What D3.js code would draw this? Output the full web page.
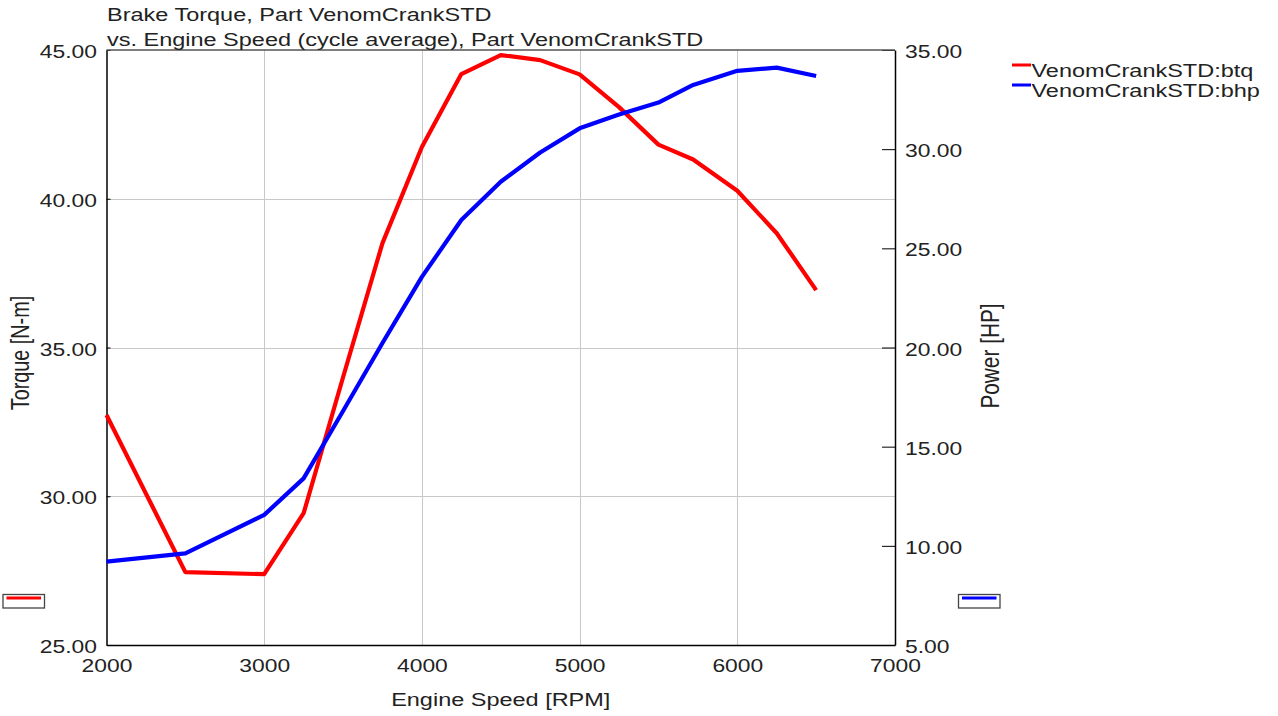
<!DOCTYPE html>
<html>
<head>
<meta charset="utf-8">
<script src="https://cdn.jsdelivr.net/npm/d3@7"></script>
<style>
  html, body { margin: 0; padding: 0; background: #fff; }
  svg { display: block; font-family: "Liberation Sans", Arial, sans-serif; }
</style>
</head>
<body>
<svg id="chart" width="1278" height="716"></svg>
<script>
// Engine speed sweep points [RPM]
const rpm = [2000, 2500, 3000, 3250, 3500, 3750, 4000, 4250, 4500, 4750, 5000, 5250, 5500, 5720, 6000, 6250, 6500];
// Brake torque [N-m]
const btq = [32.73, 27.45, 27.38, 29.43, 34.0, 38.51, 41.74, 44.19, 44.83, 44.66, 44.18, 43.08, 41.82, 41.32, 40.27, 38.84, 36.93];
// Brake power [HP]
const bhp = [9.20, 9.62, 11.56, 13.40, 16.8, 20.23, 23.56, 26.43, 28.36, 29.83, 31.05, 31.75, 32.35, 33.24, 33.95, 34.11, 33.69];

const xTicks = [2000, 3000, 4000, 5000, 6000, 7000];
const torqueTicks = [25, 30, 35, 40, 45];
const powerTicks = [5, 10, 15, 20, 25, 30, 35];

const titleLines = ["Brake Torque, Part VenomCrankSTD", "vs. Engine Speed (cycle average), Part VenomCrankSTD"];
const seriesNames = ["VenomCrankSTD:btq", "VenomCrankSTD:bhp"];
const seriesColors = ["#ff0000", "#0000ff"];

// Text in this chart is drawn horizontally widened
const SX = 1.27;

const svg = d3.select("#chart");
const L = 106.5, R = 895, T = 50, B = 645;

const x = d3.scaleLinear().domain([2000, 7000]).range([L, R]);
const yT = d3.scaleLinear().domain([25, 45]).range([B, T]);
const yP = d3.scaleLinear().domain([5, 35]).range([B, T]);

// Grid
const grid = svg.append("g").attr("stroke", "#c8c8c8").attr("stroke-width", 1);
grid.selectAll("line.v").data(xTicks.filter(d => d > 2000 && d < 7000)).join("line")
  .attr("x1", d => Math.round(x(d)) + 0.5).attr("x2", d => Math.round(x(d)) + 0.5)
  .attr("y1", T).attr("y2", B);
grid.selectAll("line.h").data(torqueTicks.filter(d => d > 25 && d < 45)).join("line")
  .attr("y1", d => Math.round(yT(d)) + 0.5).attr("y2", d => Math.round(yT(d)) + 0.5)
  .attr("x1", L).attr("x2", R);

// Stretch helper for axis labels produced by d3.axis
function widen(sel) {
  sel.selectAll(".tick text").each(function () {
    const t = d3.select(this);
    const tx = +t.attr("x") || 0;
    t.attr("x", tx / SX).attr("transform", `scale(${SX},1)`);
  });
}

// Bottom axis
const gx = svg.append("g").attr("transform", `translate(0,${B})`)
  .call(d3.axisBottom(x).tickValues(xTicks).tickFormat(d3.format("d")).tickSize(0).tickPadding(14));
gx.select(".domain").attr("stroke", "#000").attr("stroke-width", 1.5);
gx.selectAll(".tick text").attr("font-size", 18).attr("fill", "#222")
  .attr("font-family", "Liberation Sans, Arial, sans-serif");
widen(gx);

// Left axis (torque)
const gl = svg.append("g").attr("transform", `translate(${L},0)`)
  .call(d3.axisLeft(yT).tickValues(torqueTicks).tickFormat(d3.format(".2f")).tickSize(-4).tickPadding(9.5).tickSizeOuter(0));
gl.select(".domain").attr("stroke", "#000").attr("stroke-width", 1.5);
gl.selectAll(".tick line").attr("stroke", "#000");
gl.selectAll(".tick text").attr("font-size", 18).attr("fill", "#222").attr("dy", null)
  .attr("y", 7.5).attr("font-family", "Liberation Sans, Arial, sans-serif");
widen(gl);

// Right axis (power)
const gr = svg.append("g").attr("transform", `translate(${R},0)`)
  .call(d3.axisRight(yP).tickValues(powerTicks).tickFormat(d3.format(".2f")).tickSize(-13).tickPadding(10).tickSizeOuter(0));
gr.select(".domain").attr("stroke", "#000").attr("stroke-width", 1.5);
gr.selectAll(".tick line").attr("stroke", "#000");
gr.selectAll(".tick text").attr("font-size", 18).attr("fill", "#222").attr("dy", null)
  .attr("y", 7.5).attr("font-family", "Liberation Sans, Arial, sans-serif");
widen(gr);

// Top frame edge
svg.append("line").attr("x1", L).attr("x2", R).attr("y1", T).attr("y2", T)
  .attr("stroke", "#555").attr("stroke-width", 1.5);

// Curves
const lineT = d3.line().x((d, i) => x(rpm[i])).y(d => yT(d));
const lineP = d3.line().x((d, i) => x(rpm[i])).y(d => yP(d));

svg.append("path").datum(btq).attr("d", lineT)
  .attr("fill", "none").attr("stroke", seriesColors[0]).attr("stroke-width", 4.2).attr("stroke-linejoin", "round");
svg.append("path").datum(bhp).attr("d", lineP)
  .attr("fill", "none").attr("stroke", seriesColors[1]).attr("stroke-width", 4.2).attr("stroke-linejoin", "round");

// Text helper with horizontal widening
function label(txt, px, py, opts = {}) {
  const t = svg.append("text")
    .attr("transform", `translate(${px},${py})` + (opts.rotate ? ` rotate(${opts.rotate})` : "") +
      (opts.rotate ? ` scale(1,${SX})` : ` scale(${SX},1)`))
    .attr("font-size", opts.size || 18.5)
    .attr("fill", "#222")
    .attr("text-anchor", opts.anchor || "start")
    .text(txt);
  return t;
}

// Title
label(titleLines[0], 107, 21);
label(titleLines[1], 107, 46);

// Axis titles
label("Engine Speed [RPM]", (L + R) / 2, 706, { anchor: "middle" });
label("Torque [N-m]", 29, 353, { anchor: "middle", rotate: -90, size: 19.8 });
label("Power [HP]", 999, 356, { anchor: "middle", rotate: -90, size: 20.8 });

// Legend (top right)
const legY = [76.5, 96.5];
seriesNames.forEach((name, i) => {
  svg.append("line").attr("x1", 1012).attr("x2", 1031)
    .attr("y1", legY[i] - 11.5).attr("y2", legY[i] - 11.5)
    .attr("stroke", seriesColors[i]).attr("stroke-width", 3);
  label(name, 1031.5, legY[i]);
});

// Axis series markers beside the plot
const markerX = [3, 958.5];
markerX.forEach((mx, i) => {
  svg.append("rect").attr("x", mx).attr("y", 594.5).attr("width", 41.5).attr("height", 13.5)
    .attr("fill", "#fff").attr("stroke", "#444").attr("stroke-width", 1.3);
  svg.append("line").attr("x1", mx + 3.5).attr("x2", mx + 38).attr("y1", 598).attr("y2", 598)
    .attr("stroke", seriesColors[i]).attr("stroke-width", 3);
});
</script>
</body>
</html>
